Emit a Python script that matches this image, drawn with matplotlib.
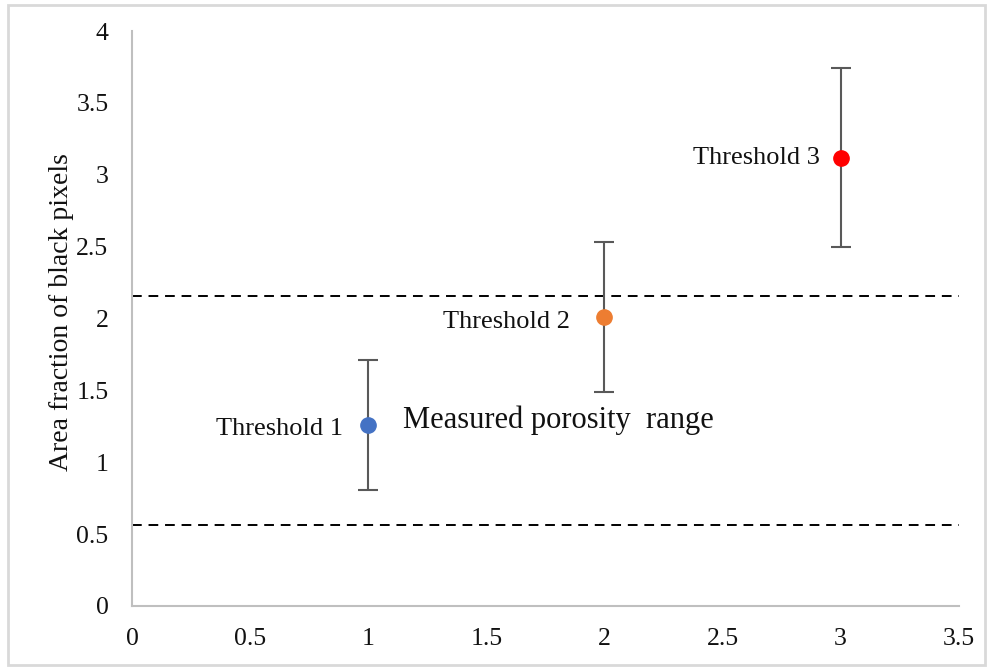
import matplotlib.pyplot as plt
from matplotlib.patches import Rectangle

plt.rcParams['font.family'] = ['Liberation Serif', 'DejaVu Serif']

x = [1, 2, 3]
y = [1.26, 2.01, 3.12]
err = [0.45, 0.52, 0.62]
labels = ['Threshold 1', 'Threshold 2', 'Threshold 3']
colors = ['#4472C4', '#ED7D31', '#FF0000']
range_low = 0.563
range_high = 2.154

# label offsets in points (layout only)
label_offsets = [(-18, -3), (-24.5, -3.5), (-15, 0)]

fig = plt.figure(figsize=(9.9, 6.67), dpi=100)
ax = fig.add_axes([132 / 990, 61 / 667, (958.7 - 132) / 990, (607 - 32) / 667])

for xi, yi, ei, lab, c, off in zip(x, y, err, labels, colors, label_offsets):
    ax.errorbar(xi, yi, yerr=ei, fmt='none', ecolor='#595959',
                elinewidth=1.5, capsize=7, capthick=1.5, zorder=2)
    ax.plot(xi, yi, 'o', color=c, markersize=11, zorder=3)
    ax.annotate(lab, (xi, yi), xytext=off, textcoords='offset points',
                ha='right', va='center', fontsize=19, color='#111111')

ax.axhline(range_high, color='black', lw=1.4, ls=(0, (5, 3.5)), zorder=1)
ax.axhline(range_low, color='black', lw=1.4, ls=(0, (5, 3.5)), zorder=1)
ax.text(1.147, 1.29, 'Measured porosity  range', fontsize=22,
        ha='left', va='center', color='#111111')

ax.set_xlim(0, 3.5)
ax.set_ylim(0, 4)
ax.set_xticks([0, 0.5, 1, 1.5, 2, 2.5, 3, 3.5])
ax.set_xticklabels(['0', '0.5', '1', '1.5', '2', '2.5', '3', '3.5'])
ax.set_yticks([0, 0.5, 1, 1.5, 2, 2.5, 3, 3.5, 4])
ax.set_yticklabels(['0', '0.5', '1', '1.5', '2', '2.5', '3', '3.5', '4'])
ax.tick_params(length=0, labelsize=18.5, labelcolor='#111111')
ax.tick_params(axis='x', pad=16)
ax.tick_params(axis='y', pad=17)
for s in ['top', 'right']:
    ax.spines[s].set_visible(False)
for s in ['left', 'bottom']:
    ax.spines[s].set_color('#BFBFBF')
    ax.spines[s].set_linewidth(1.5)

fig.text(62 / 990, 1 - 312 / 667, 'Area fraction of black pixels', rotation=90,
         ha='center', va='center', fontsize=20, color='#111111')

fig.patches.append(Rectangle((8 / 990, 2 / 667), 977 / 990, 660 / 667,
                             transform=fig.transFigure, fill=False,
                             edgecolor='#D9D9D9', linewidth=2))

fig.savefig('out.png', dpi=100)
